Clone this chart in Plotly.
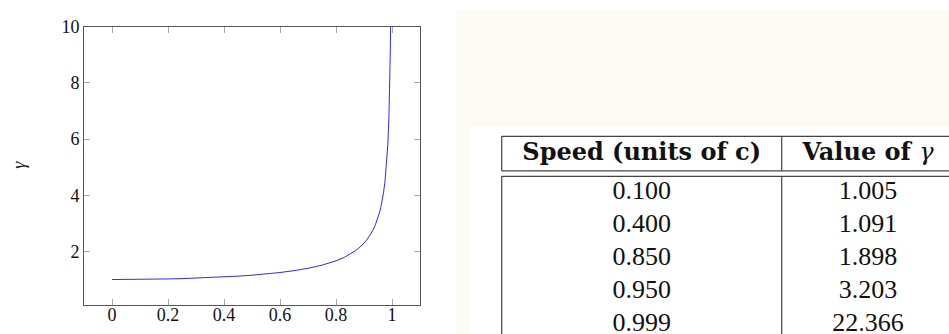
import plotly.graph_objects as go

# ---- curve data ----
speed = [0.0, 0.05, 0.1, 0.15, 0.2, 0.25, 0.3, 0.35, 0.4, 0.45, 0.5, 0.55, 0.6,
         0.65, 0.7, 0.75, 0.8, 0.83, 0.85, 0.87, 0.88, 0.89, 0.9, 0.91, 0.92,
         0.93, 0.94, 0.945, 0.95, 0.955, 0.96, 0.965, 0.97, 0.975, 0.98, 0.985,
         0.989, 0.991, 0.992, 0.993, 0.994, 0.995, 0.996]
gamma = [1.0, 1.001, 1.005, 1.011, 1.021, 1.033, 1.048, 1.068, 1.091, 1.120, 1.155,
         1.197, 1.250, 1.316, 1.400, 1.512, 1.667, 1.793, 1.898, 2.028, 2.105,
         2.193, 2.294, 2.412, 2.552, 2.721, 2.931, 3.057, 3.203, 3.371, 3.571,
         3.813, 4.113, 4.500, 5.025, 5.795, 6.760, 7.470, 7.922, 8.466, 9.142,
         10.013, 11.19]

x_ticks = [0, 0.2, 0.4, 0.6, 0.8, 1]
x_tick_labels = ["0", "0.2", "0.4", "0.6", "0.8", "1"]
y_ticks = [2, 4, 6, 8, 10]
y_tick_labels = ["2", "4", "6", "8", "10"]

# ---- table data ----
table_header = ["<b>Speed (units of c)</b>", "<b>Value of </b><i>γ</i>"]
table_speed = ["0.100", "0.400", "0.850", "0.950", "0.999"]
table_gamma = ["1.005", "1.091", "1.898", "3.203", "22.366"]

W, H = 949, 334
SERIF = "Liberation Serif, Times New Roman, serif"
HEAD = "DejaVu Serif, serif"

# vertical placement helper: target pixel row -> figure pixel row
V_SCALE, V_OFF = 0.97, 8.2


def fy(px):
    return (px - V_OFF) / V_SCALE


def py(px):  # paper fraction for a target pixel row
    return 1 - fy(px) / H


fig = go.Figure()

fig.add_trace(go.Scatter(x=speed, y=gamma, mode="lines",
                         line=dict(color="#2a2aff", width=1.0),
                         xaxis="x", yaxis="y", showlegend=False, hoverinfo="skip"))

# table layout (pixel-based helper axis)
col_left, col_div, col_right = 501.7, 781.7, 956
col_centers = [(col_left + col_div) / 2, 868]
top_line, hdr_line1, hdr_line2 = 134.5, 169.0, 174.5
header_y = 152
row0_y, row_h = 190.5, 33.0
row_y = [fy(row0_y + i * row_h) for i in range(len(table_speed))]

fig.add_trace(go.Scatter(x=col_centers, y=[fy(header_y)] * 2, mode="text",
                         text=table_header, textposition="middle center",
                         textfont=dict(family=HEAD, size=24, color="#111"),
                         xaxis="x2", yaxis="y2", showlegend=False, hoverinfo="skip"))
fig.add_trace(go.Scatter(x=[col_centers[0]] * len(table_speed), y=row_y, mode="text",
                         text=table_speed, textposition="middle center",
                         textfont=dict(family=SERIF, size=26, color="#111"),
                         xaxis="x2", yaxis="y2", showlegend=False, hoverinfo="skip"))
fig.add_trace(go.Scatter(x=[col_centers[1]] * len(table_gamma), y=row_y, mode="text",
                         text=table_gamma, textposition="middle center",
                         textfont=dict(family=SERIF, size=26, color="#111"),
                         xaxis="x2", yaxis="y2", showlegend=False, hoverinfo="skip"))

shapes = []
tint = "#fcfaf5"
shapes.append(dict(type="rect", xref="paper", yref="paper", x0=456 / W, x1=1,
                   y0=py(125), y1=1, fillcolor=tint, line=dict(width=0), layer="below"))
shapes.append(dict(type="rect", xref="paper", yref="paper", x0=456 / W, x1=470 / W,
                   y0=0, y1=py(125), fillcolor=tint, line=dict(width=0), layer="below"))

lc = dict(color="#444", width=1.2)
for yy in [top_line, hdr_line1, hdr_line2]:
    shapes.append(dict(type="line", xref="x2", yref="y2", x0=col_left, x1=col_right,
                       y0=fy(yy), y1=fy(yy), line=lc))
for xx in [col_left, col_div]:
    shapes.append(dict(type="line", xref="x2", yref="y2", x0=xx, x1=xx,
                       y0=fy(top_line), y1=fy(hdr_line1), line=lc))
    shapes.append(dict(type="line", xref="x2", yref="y2", x0=xx, x1=xx,
                       y0=fy(hdr_line2), y1=H + 20, line=lc))

axis_common = dict(showgrid=False, zeroline=False, showline=True, linecolor="#555",
                   linewidth=1, mirror="allticks", ticks="inside", ticklen=6,
                   tickcolor="#aaa", tickwidth=1,
                   tickfont=dict(family=SERIF, size=18, color="#111"))

fig.update_layout(
    width=W, height=H, margin=dict(l=0, r=0, t=0, b=0),
    paper_bgcolor="white", plot_bgcolor="rgba(0,0,0,0)",
    xaxis=dict(domain=[84 / W, 420 / W], range=[-0.1, 1.1], tickvals=x_ticks,
               ticktext=x_tick_labels, anchor="y", ticklabelstandoff=-6, **axis_common),
    yaxis=dict(domain=[py(303), py(25)], range=[0.1, 10], tickvals=y_ticks,
               ticktext=y_tick_labels, anchor="x", **axis_common),
    xaxis2=dict(domain=[0, 1], range=[0, W], visible=False, anchor="y2"),
    yaxis2=dict(domain=[0, 1], range=[H, 0], visible=False, anchor="x2"),
    shapes=shapes,
    annotations=[dict(text="<i>γ</i>", xref="paper", yref="paper", x=19 / W,
                      y=py(163), xanchor="center", yanchor="middle",
                      showarrow=False, textangle=-90,
                      font=dict(family=SERIF, size=18, color="#111"))],
    showlegend=False,
)

post = ("document.documentElement.style.margin='0';"
        "document.body.style.margin='0';document.body.style.padding='0';"
        "document.body.style.overflow='hidden';"
        "var d=document.getElementById('{plot_id}');"
        "d.style.position='fixed';d.style.left='0px';d.style.top='0px';")

fig.write_html("out.html", post_script=post, config={"displayModeBar": False})
